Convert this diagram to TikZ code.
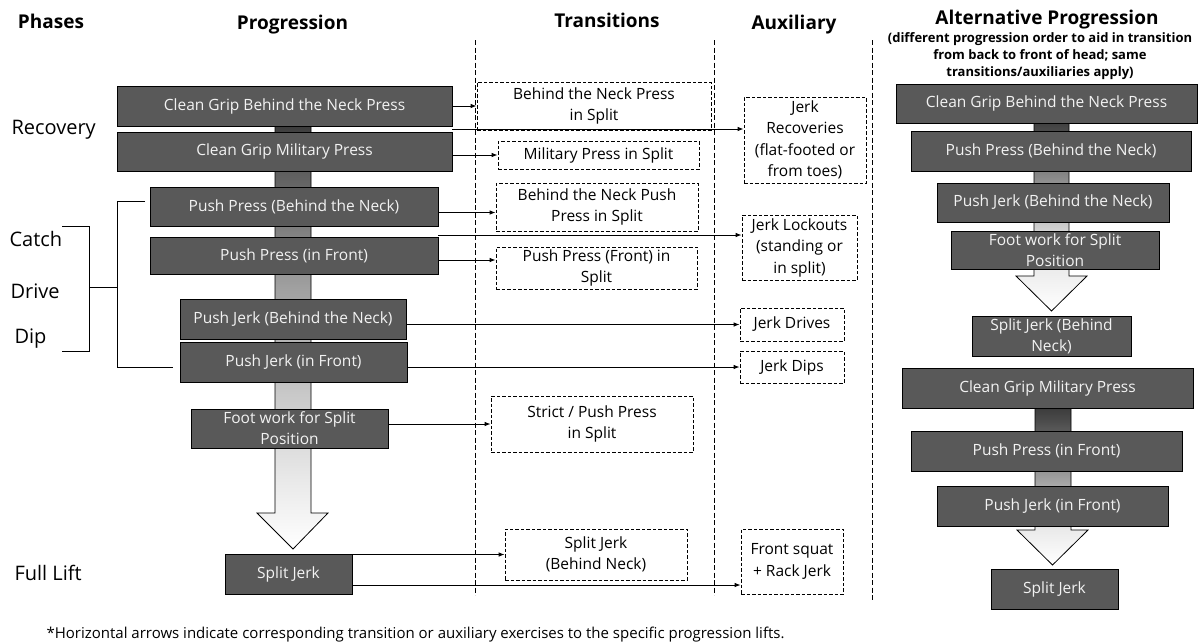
\documentclass[tikz,border=0pt]{standalone}
\usepackage{fontspec}
\setmainfont{Open Sans}
\usetikzlibrary{arrows.meta,calc}
\definecolor{boxgray}{HTML}{595959}
\definecolor{boxtext}{HTML}{F2F2F2}
% vertical gradients for the flow bars (dark at the top, fading to white at the tip)
\pgfdeclareverticalshading{mainbar}{100bp}{color(0bp)=(white); color(25bp)=(white);
  color(33bp)=(black!9); color(54bp)=(black!37); color(69bp)=(black!67);
  color(75bp)=(black!85); color(100bp)=(black!85)}
\pgfdeclareverticalshading{altbarA}{100bp}{color(0bp)=(white); color(25bp)=(white);
  color(42bp)=(black!13); color(75bp)=(black!87); color(100bp)=(black!87)}
\pgfdeclareverticalshading{altbarB}{100bp}{color(0bp)=(white); color(25bp)=(white);
  color(35bp)=(black!8); color(66bp)=(black!70); color(75bp)=(black!85); color(100bp)=(black!85)}
\tikzset{
  prog/.style={draw=black, line width=0.9pt, fill=boxgray, text=boxtext,
    font=\fontsize{15.5}{21}\selectfont, align=center, inner sep=0pt},
  trans/.style={draw=black, dash pattern=on 3.5pt off 2pt, line width=0.8pt,
    fill=white, font=\fontsize{15.5}{21.5}\selectfont, align=center, inner sep=0pt},
  arr/.style={-{Latex[length=6pt,width=4.5pt]}, line width=0.8pt},
  divider/.style={dash pattern=on 5pt off 2.5pt, line width=0.8pt},
  colhead/.style={font=\fontsize{19}{22}\bfseries\selectfont, anchor=base},
  phase/.style={font=\fontsize{20}{24}\selectfont, anchor=west},
  flowbar/.style={draw=black, line width=0.8pt, shade},
}
\begin{document}
\begin{tikzpicture}[x=1pt,y=-1pt]
\useasboundingbox (0,0) rectangle (1201,643);

% column headers
\node[colhead] (hphase) at (51,28) {Phases};
\node[colhead] (hprog) at (292.5,29) {Progression};
\node[colhead] (htrans) at (607,27) {Transitions};
\node[colhead] (haux) at (794,29) {Auxiliary};
\node[colhead] (halt) at (1047,24) {Alternative Progression};
\node[anchor=base, align=center, font=\fontsize{13}{17}\bfseries\selectfont] (hnote) at (1040,76)
  {(different progression order to aid in transition\\from back to front of head; same\\transitions/auxiliaries apply)};

% column dividers
\draw[divider] (475,40) -- (475,595);
\draw[divider] (714,40) -- (714,595);
\draw[divider] (872,40) -- (872,600);

% main progression flow bar
\draw[flowbar, shading=mainbar]
  (275,100) -- (275,513) -- (257,513) -- (293,549) -- (328,513) -- (311,513) -- (311,100) -- cycle;

% alternative progression flow bars
\draw[flowbar, shading=altbarA]
  (1034,100) -- (1034,276) -- (1016,276) -- (1051.5,311) -- (1087,276) -- (1069,276) -- (1069,100) -- cycle;
\draw[flowbar, shading=altbarB]
  (1035,390) -- (1035,530) -- (1017,530) -- (1052.5,565) -- (1088,530) -- (1071,530) -- (1071,390) -- cycle;

% progression lifts
\node[prog, minimum width=335pt, minimum height=40pt] (p1) at (284.5,106) {Clean Grip Behind the Neck Press};
\node[prog, minimum width=335pt, minimum height=39pt] (p2) at (284.5,151.5) {Clean Grip Military Press};
\node[prog, minimum width=288pt, minimum height=39pt] (p3) at (294,206.5) {Push Press (Behind the Neck)};
\node[prog, minimum width=288pt, minimum height=37pt] (p4) at (294,255.5) {Push Press (in Front)};
\node[prog, minimum width=226pt, minimum height=40pt] (p5) at (293,319) {Push Jerk (Behind the Neck)};
\node[prog, minimum width=227pt, minimum height=40pt] (p6) at (293.5,362) {Push Jerk (in Front)};
\node[prog, minimum width=197pt, minimum height=39pt] (p7) at (289.5,428.5) {Foot work for Split\\Position};
\node[prog, minimum width=127pt, minimum height=40pt] (p8) at (288.5,574) {Split Jerk};

% transitions
\node[trans, minimum width=234pt, minimum height=48pt] (t1) at (594,106) {Behind the Neck Press\\in Split};
\node[trans, minimum width=201pt, minimum height=28pt] (t2) at (598.5,155) {Military Press in Split};
\node[trans, minimum width=202pt, minimum height=48pt] (t3) at (597,207) {Behind the Neck Push\\Press in Split};
\node[trans, minimum width=201pt, minimum height=42pt] (t4) at (596.5,268) {Push Press (Front) in\\Split};
\node[trans, minimum width=202pt, minimum height=56pt] (t5) at (592,424) {Strict / Push Press\\in Split};
\node[trans, minimum width=182pt, minimum height=51pt] (t6) at (596,554.5) {Split Jerk\\(Behind Neck)};

% auxiliary exercises
\node[trans, minimum width=122pt, minimum height=86pt] (x1) at (805,140) {Jerk\\Recoveries\\(flat-footed or\\from toes)};
\node[trans, minimum width=115pt, minimum height=65pt] (x2) at (799.5,247.5) {Jerk Lockouts\\(standing or\\in split)};
\node[trans, minimum width=104pt, minimum height=33pt] (x3) at (792,324.5) {Jerk Drives};
\node[trans, minimum width=104pt, minimum height=32pt] (x4) at (792,367) {Jerk Dips};
\node[trans, minimum width=102pt, minimum height=65pt] (x5) at (792,561.5) {Front squat\\+ Rack Jerk};

% alternative progression lifts
\node[prog, minimum width=301pt, minimum height=39pt] (a1) at (1046.5,103.5) {Clean Grip Behind the Neck Press};
\node[prog, minimum width=280pt, minimum height=40pt] (a2) at (1051,151) {Push Press (Behind the Neck)};
\node[prog, minimum width=232pt, minimum height=39pt] (a3) at (1053,202.5) {Push Jerk (Behind the Neck)};
\node[prog, minimum width=208pt, minimum height=38pt] (a4) at (1055,250) {Foot work for Split\\Position};
\node[prog, minimum width=159pt, minimum height=40pt] (a5) at (1051.5,336) {Split Jerk (Behind\\Neck)};
\node[prog, minimum width=291pt, minimum height=40pt] (a6) at (1047.5,388) {Clean Grip Military Press};
\node[prog, minimum width=271pt, minimum height=40pt] (a7) at (1046.5,451) {Push Press (in Front)};
\node[prog, minimum width=231pt, minimum height=40pt] (a8) at (1052.5,506) {Push Jerk (in Front)};
\node[prog, minimum width=127pt, minimum height=40pt] (a9) at (1054.5,589) {Split Jerk};

% horizontal links from lifts to transitions / auxiliaries
\coordinate (gap12) at (452,129);
\coordinate (gap34) at (438,235);
\draw[arr] (p1.east) -- (t1.west);
\draw[arr] (gap12) -- (gap12 -| x1.west);
\draw[arr] (p2.east |- t2.west) -- (t2.west);
\draw[arr] ([yshift=-6pt]p3.east) -- ([yshift=-6pt]p3.east -| t3.west);
\draw[arr] (gap34) -- (gap34 -| x2.west);
\draw[arr] ([yshift=-4.5pt]p4.east) -- ([yshift=-4.5pt]p4.east -| t4.west);
\draw[arr] (p5.east |- x3.west) -- (x3.west);
\draw[arr] (p6.east |- x4.west) -- (x4.west);
\draw[arr] (p7.east |- t5.west) -- (t5.west);
\draw[arr] (p8.east |- t6.west) -- (t6.west);
\draw[arr] ([yshift=-11pt]p8.east) -- ([yshift=-11pt]p8.east -| x5.west);

% phase labels
\node[phase] (recovery) at (8,130) {Recovery};
\node[phase] (catch) at (6,239) {Catch};
\node[phase] (drive) at (7,291) {Drive};
\node[phase] (dip) at (11,339) {Dip};
\node[phase] (fulllift) at (11,573) {Full Lift};

% phase brackets
\coordinate (bi1) at (62,226);
\coordinate (bi2) at (62,351);
\coordinate (bimid) at (89,287);
\coordinate (bo1) at (145,201);
\coordinate (bo2) at (173,367);
\draw[line width=0.8pt] (bi1) -- (89,226) -- (89,351) -- (bi2);
\draw[line width=0.8pt] (bimid) -- (117,287);
\draw[line width=0.8pt] (bo1) -- (117,201) -- (117,367) -- (bo2);

% footnote
\node[anchor=base west, font=\fontsize{15}{18}\selectfont] (foot) at (43,638)
  {*Horizontal arrows indicate corresponding transition or auxiliary exercises to the specific progression lifts.};
\end{tikzpicture}
\end{document}
